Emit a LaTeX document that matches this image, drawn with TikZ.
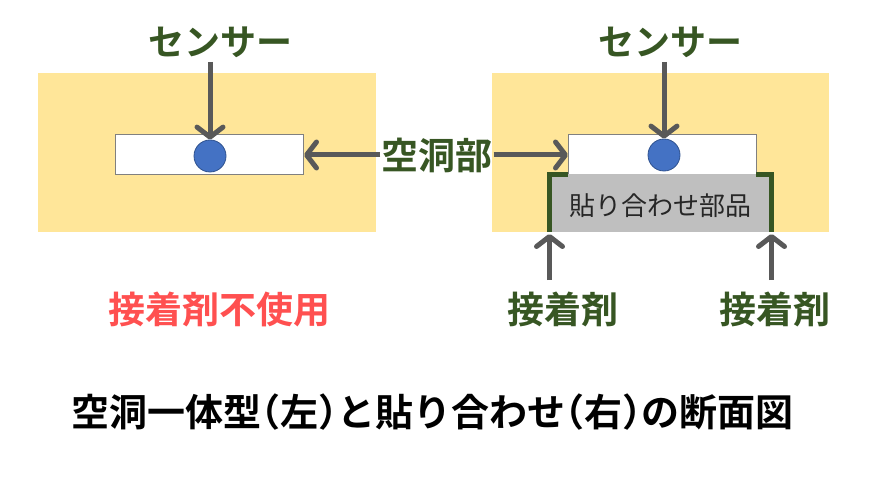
\documentclass[tikz,border=0pt]{standalone}
\usepackage{fontspec}
\usetikzlibrary{arrows.meta}
\newfontfamily\jpbold{Noto Sans CJK JP Bold}
\newfontfamily\jpreg{Noto Sans CJK JP}
\newcommand\hw[1]{{\addfontfeature{RawFeature=+halt}#1}}
\definecolor{baseyellow}{HTML}{FFE699}
\definecolor{sensorblue}{HTML}{4472C4}
\definecolor{sensoredge}{HTML}{2F528F}
\definecolor{partgray}{HTML}{BFBFBF}
\definecolor{gluegreen}{HTML}{375623}
\definecolor{warnred}{HTML}{FF5050}
\definecolor{arrowgray}{HTML}{595959}
\tikzset{
	base/.style={fill=baseyellow, draw=none},
	cavity/.style={fill=white, draw=black!50, line width=0.8pt},
	sensor/.style={circle, fill=sensorblue, draw=sensoredge, line width=0.8pt, minimum size=32pt, inner sep=0pt},
	label/.style={font=\jpbold\fontsize{36}{40}\selectfont, text=gluegreen, inner sep=1pt},
	biglabel/.style={label, font=\jpbold\fontsize{37}{40}\selectfont},
	pointer/.style={line width=5pt, color=arrowgray, -{Straight Barb[length=10pt, width=26pt, line width=5pt, round]}},
	glue/.style={line width=5pt, color=gluegreen},
}

\begin{document}
\begin{tikzpicture}[x=1pt, y=-1pt]
			%%%%% START %%%%%
			\useasboundingbox (0, 0) rectangle (872, 486);
			
			% left: one-piece cavity
			\draw[base] (38, 73) rectangle (376, 232);
			\draw[cavity] (115, 134) rectangle (303, 174);
			\node[sensor] (sensorL) at (210, 156) {};
			\node[label] (senseL) at (220, 42) {センサー};
			
			% right: bonded part
			\draw[base] (492, 73) rectangle (829, 232);
			\draw[cavity] (568, 134) rectangle (756, 174);
			\draw[fill=partgray, draw=none] (551, 174) rectangle (770, 232);
			\node[font=\jpreg\fontsize{26}{30}\selectfont, text=black!85] (part) at (660, 206) {貼り合わせ部品};
			\draw[glue] (568, 174.5) -- (549.5, 174.5) -- (549.5, 232);
			\draw[glue] (756, 174.5) -- (771.5, 174.5) -- (771.5, 232);
			\coordinate (glueL) at (549.5, 234);
			\coordinate (glueR) at (771.5, 234);
			\node[sensor] (sensorR) at (664, 155) {};
			\node[label] (senseR) at (670, 42) {センサー};
			
			% labels
			\node[biglabel] (hollow) at (437, 155) {空洞部};
			\node[biglabel] (adhL) at (563, 309) {接着剤};
			\node[biglabel] (adhR) at (774.5, 309) {接着剤};
			\node[biglabel, text=warnred] (noadh) at (219, 309) {接着剤不使用};
			
			% pointers
			\draw[pointer] (210, 62) -- (sensorL.north);
			\draw[pointer] (664, 62) -- (sensorR.north);
			\draw[pointer] (hollow.west) -- (304, 155);
			\draw[pointer] (hollow.east) -- (568, 155);
			\draw[pointer] (549.5, 280) -- (glueL);
			\draw[pointer] (771.5, 280) -- (glueR);
			
			\node[font=\jpbold\fontsize{38}{42}\selectfont] (caption) at (432, 412) {空洞一体型\hw{（}左\hw{）}と貼り合わせ\hw{（}右\hw{）}の断面図};
			%%%%% END %%%%%
\end{tikzpicture}
\end{document}
